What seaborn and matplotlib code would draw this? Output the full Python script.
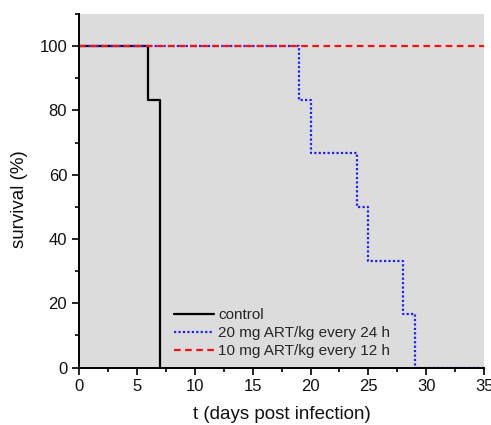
import numpy as np
import pandas as pd
import matplotlib
matplotlib.use("Agg")
import matplotlib.pyplot as plt
import seaborn as sns
from matplotlib.ticker import MultipleLocator

# Kaplan-Meier style step data
control_days = [0, 6, 7]
control_surv = [100, 83.3, 0]

art24_days = [0, 19, 20, 24, 25, 28, 29, 35]
art24_surv = [100, 83.3, 66.7, 50, 33.3, 16.7, 0, 0]

art12_days = [0, 35]
art12_surv = [100, 100]

labels = ["control", "20 mg ART/kg every 24 h", "10 mg ART/kg every 12 h"]

sns.set_style("ticks")
plt.rcParams['font.family'] = ['Liberation Sans', 'DejaVu Sans']

fig = plt.figure(figsize=(4.91, 4.25), dpi=100)
ax = fig.add_axes([0.161, 0.135, 0.825, 0.832])
ax.set_facecolor("#dcdcdc")

sns.lineplot(x=control_days, y=control_surv, ax=ax, drawstyle="steps-post",
             color="black", linestyle="-", linewidth=1.6, label=labels[0])
sns.lineplot(x=art24_days, y=art24_surv, ax=ax, drawstyle="steps-post",
             color="#2020ff", linestyle=(0, (1, 1)), linewidth=1.6, label=labels[1])
sns.lineplot(x=art12_days, y=art12_surv, ax=ax, drawstyle="steps-post",
             color="#ff1010", linestyle=(0, (3, 2)), linewidth=1.6, label=labels[2])

ax.set_xlim(0, 35)
ax.set_ylim(0, 110)
ax.xaxis.set_major_locator(MultipleLocator(5))
ax.xaxis.set_minor_locator(MultipleLocator(2.5))
ax.yaxis.set_minor_locator(MultipleLocator(10))
ax.set_yticks([0, 20, 40, 60, 80, 100])

ax.tick_params(which="major", direction="out", length=5, width=1.2, labelsize=12,
               colors="black", labelcolor="#111111")
ax.tick_params(which="minor", direction="out", length=3, width=1.2, colors="black")

for side in ["top", "right"]:
    ax.spines[side].set_visible(False)
for side in ["left", "bottom"]:
    ax.spines[side].set_linewidth(1.4)
    ax.spines[side].set_color("black")

ax.set_xlabel("t (days post infection)", fontsize=13.5, labelpad=8, color="#111111")
ax.set_ylabel("survival (%)", fontsize=13.5, color="#111111")
ax.yaxis.set_label_coords(-0.125, 0.477)

ax.legend(loc="lower left", bbox_to_anchor=(0.2, -0.012), frameon=False,
          fontsize=11, handlelength=2.6, handletextpad=0.3, labelspacing=0.25)

fig.savefig("out.png", dpi=100)
